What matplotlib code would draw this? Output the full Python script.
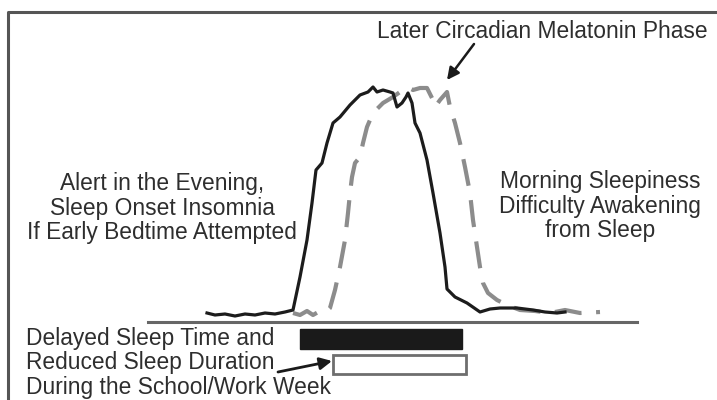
"""Delayed sleep phase schematic: melatonin curves and sleep timing bars."""

import matplotlib
matplotlib.use("Agg")

import matplotlib.pyplot as plt

# Melatonin profile, normal phase (solid black), in image units (x right, y down)
normal_x = [207, 215, 225, 235, 245, 255, 265, 275, 285, 293, 300, 307, 312, 316,
            322, 327, 333, 340, 350, 360, 368, 373, 377, 383, 390, 393, 397, 402,
            406, 408, 412, 415, 420, 427, 433, 440, 445, 447, 455, 467, 480, 490,
            500, 517, 533, 545, 557, 565]
normal_y = [313, 315, 314, 316, 314, 315, 313, 314, 312, 310, 277, 240, 203, 170,
            163, 143, 123, 117, 105, 95, 92, 87, 92, 90, 92, 93, 107, 103,
            97, 93, 103, 123, 133, 160, 193, 233, 267, 289, 297, 303, 312, 309,
            308, 308, 310, 312, 313, 312]

# Melatonin profile, later circadian phase (dashed gray)
late_x = [293, 300, 307, 313, 320, 326, 330, 335, 340, 345, 348, 350, 352, 355,
          360, 363, 367, 373, 383, 393, 400, 407, 413, 420, 427, 432, 435, 440,
          447, 450, 455, 460, 465, 470, 473, 477, 480, 483, 488, 497, 507, 520,
          535, 550, 565, 580, 600]
late_y = [313, 315, 311, 315, 311, 312, 308, 290, 267, 240, 213, 193, 177, 163,
          157, 143, 127, 113, 103, 97, 92, 87, 90, 88, 88, 98, 107, 100,
          92, 107, 123, 143, 167, 193, 220, 247, 267, 283, 293, 300, 305, 310,
          311, 313, 310, 313, 312]

# Sleep timing bars: (start, end) for delayed sleep and school/work week sleep
sleep_bars = [(300, 462), (333, 466)]

top_label = "Later Circadian Melatonin Phase"
left_label = "Alert in the Evening,\nSleep Onset Insomnia\nIf Early Bedtime Attempted"
right_label = "Morning Sleepiness\nDifficulty Awakening\nfrom Sleep"
bottom_label = "Delayed Sleep Time and\nReduced Sleep Duration\nDuring the School/Work Week"

plt.rcParams["font.family"] = ["Liberation Sans", "DejaVu Sans"]
text_color = "#2e2e2e"

fig = plt.figure(figsize=(7.17, 4.0), dpi=100)
ax = fig.add_axes([0, 0, 1, 1])
ax.set_xlim(0, 717)
ax.set_ylim(400, 0)
ax.axis("off")

# frame (only left and top edges are inside the crop)
ax.plot([8, 8, 717], [400, 12, 12], color="#555555", linewidth=2.2,
        solid_capstyle="butt")

# baseline
ax.plot([148, 637], [322, 322], color="#666666", linewidth=2.2)

# curves
ax.plot(late_x, late_y, color="#8c8c8c", linewidth=3, linestyle=(0, (6.5, 3.5)))
ax.plot(normal_x, normal_y, color="#1c1c1c", linewidth=2.3)

# sleep bars
ax.barh(339, sleep_bars[0][1] - sleep_bars[0][0], left=sleep_bars[0][0], height=20,
        color="#1a1a1a", edgecolor="#1a1a1a", linewidth=1)
ax.barh(364.5, sleep_bars[1][1] - sleep_bars[1][0], left=sleep_bars[1][0], height=19,
        color="white", edgecolor="#6e6e6e", linewidth=2)

# text
fs = 16.4
ls = 1.07
ax.text(542, 32, top_label, ha="center", va="center", fontsize=fs, color=text_color)
ax.text(162, 208, left_label, ha="center", va="center", fontsize=fs, color=text_color,
        linespacing=ls)
ax.text(600, 206, right_label, ha="center", va="center", fontsize=fs, color=text_color,
        linespacing=ls)
ax.text(26, 363, bottom_label, ha="left", va="center", fontsize=fs, color=text_color,
        linespacing=ls)

# arrows
ax.annotate("", xy=(447, 80), xytext=(474, 44),
            arrowprops=dict(arrowstyle="-|>", color="#1a1a1a", lw=1.8,
                            mutation_scale=18, shrinkA=0, shrinkB=0))
ax.annotate("", xy=(332, 361), xytext=(278, 372),
            arrowprops=dict(arrowstyle="-|>", color="#1a1a1a", lw=2,
                            mutation_scale=18, shrinkA=0, shrinkB=0))

fig.savefig("out.png", dpi=100, facecolor="white")
plt.close(fig)
